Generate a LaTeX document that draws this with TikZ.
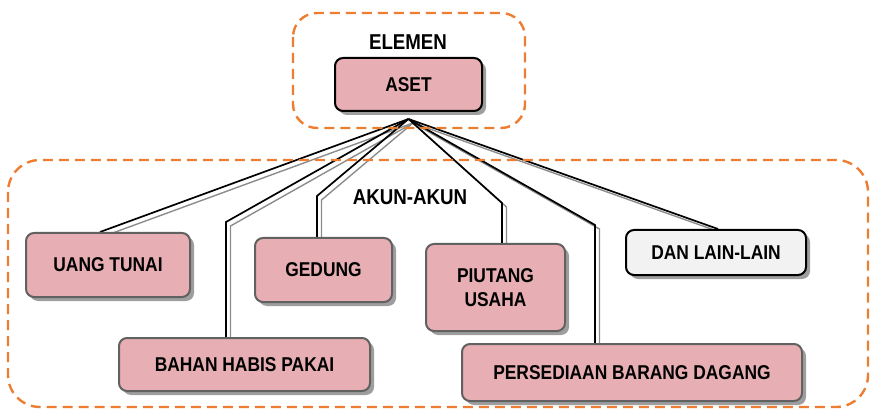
\documentclass[tikz,border=0pt]{standalone}
\usepackage{fontspec}
\setmainfont{Liberation Sans}[FakeStretch=0.87]
\usepackage{tikz}
\usetikzlibrary{shadows,backgrounds}
\definecolor{BoxPink}{RGB}{231,175,179}
\definecolor{FrameOrange}{RGB}{237,125,49}
\definecolor{OtherGray}{RGB}{242,242,242}

\begin{document}
\begin{tikzpicture}[x=1pt,y=-1pt,
  frame/.style={draw=FrameOrange, line width=2.4pt, dash pattern=on 10pt off 6pt, rounded corners=24pt},
  heading/.style={font=\fontsize{21.5}{24}\selectfont\bfseries},
  akun/.style={draw=black!62, line width=2pt, fill=BoxPink, rounded corners=8pt, inner sep=0pt, align=center,
    font=\fontsize{20}{24}\selectfont\bfseries,
    drop shadow={shadow xshift=4pt, shadow yshift=-4pt, fill=black!38, opacity=1}},
  link/.style={line width=1.7pt, draw=black},
  linkshade/.style={line width=1.4pt, draw=black!45, transform canvas={shift={(4.5pt,-4pt)}}}]
\useasboundingbox (0,0) rectangle (874,411);
\draw[frame] (293,13) rectangle (525,128);
\draw[frame, rounded corners=32pt] (8,160) rectangle (868,407);
\node[heading] (elemen) at (408,42) {ELEMEN};
\node[heading] (akunakun) at (410,197) {AKUN-AKUN};
\node[akun, draw=black, minimum width=147pt, minimum height=53pt] (aset) at (408.5,84.5) {ASET};
\node[akun, minimum width=164pt, minimum height=64pt] (uang) at (108,265) {UANG TUNAI};
\node[akun, minimum width=137pt, minimum height=64pt] (gedung) at (323.5,270) {GEDUNG};
\node[akun, minimum width=251pt, minimum height=53pt] (bahan) at (244.5,364.5) {BAHAN HABIS PAKAI};
\node[akun, minimum width=139pt, minimum height=87pt] (piutang) at (495.5,287.5) {PIUTANG\\USAHA};
\node[akun, minimum width=340pt, minimum height=57pt] (persed) at (632,372.5) {PERSEDIAAN BARANG DAGANG};
\node[akun, draw=black, fill=OtherGray, minimum width=180pt, minimum height=45pt] (lain) at (716,252.5) {DAN LAIN-LAIN};
\coordinate (hub) at ([yshift=-7pt]aset.south);
\coordinate (kUang) at (100,228);
\coordinate (kBahan) at (226,222);
\coordinate (kGedung) at (317,196);
\coordinate (kPiutang) at (502,203);
\coordinate (kPersed) at (595,225);
\coordinate (kLain) at (718,224);
\begin{scope}[on background layer]
  \foreach \s in {linkshade,link} {
    \draw[\s] (hub) -- (kUang |- uang.north);
    \draw[\s] (hub) -- (kBahan) -- (kBahan |- bahan.north);
    \draw[\s] (hub) -- (kGedung) -- (kGedung |- gedung.north);
    \draw[\s] (hub) -- (kPiutang) -- (kPiutang |- piutang.north);
    \draw[\s] (hub) -- (kPersed) -- (kPersed |- persed.north);
    \draw[\s] (hub) -- (kLain |- lain.north);
  }
\end{scope}
\end{tikzpicture}
\end{document}
